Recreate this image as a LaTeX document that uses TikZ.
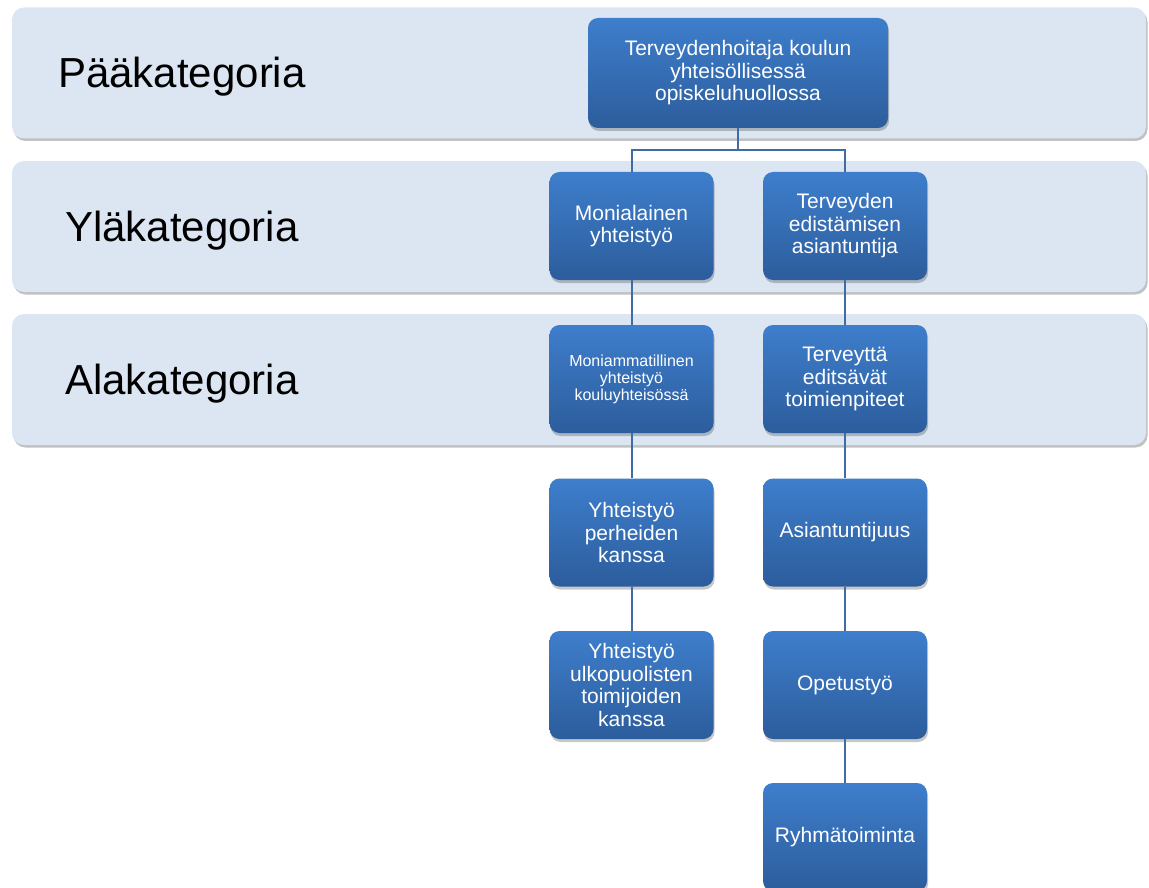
\documentclass[tikz,border=0pt]{standalone}
\usepackage{fontspec}
\setmainfont{Liberation Sans}
\usetikzlibrary{shadows}
\definecolor{bandfill}{RGB}{220,230,242}
\definecolor{boxtop}{RGB}{62,126,204}
\definecolor{boxbot}{RGB}{44,93,156}
\definecolor{linkcol}{RGB}{64,108,166}
\tikzset{
  band/.style={rectangle, rounded corners=12pt, fill=bandfill, draw=none,
    minimum width=1134pt, minimum height=131pt,
    drop shadow={shadow xshift=1.5pt, shadow yshift=-2.5pt, opacity=0.35, fill=black!70}},
  bandlabel/.style={anchor=base west, inner sep=0pt, text=black,
    font=\fontsize{42}{46}\selectfont},
  catbox/.style={rectangle, rounded corners=10pt, top color=boxtop, bottom color=boxbot,
    draw=none, text=white, align=center, inner sep=2pt,
    minimum width=164pt, minimum height=108pt,
    font=\fontsize{21}{22.5}\selectfont,
    drop shadow={shadow xshift=1pt, shadow yshift=-3pt, opacity=0.22, fill=black}},
  smalltext/.style={font=\fontsize{16}{17}\selectfont},
  link/.style={draw=linkcol, line width=2pt}
}
\begin{document}
\begin{tikzpicture}[x=1pt, y=-1pt]
  \useasboundingbox (0,0) rectangle (1149,888);
  \clip (0,0) rectangle (1149,888);

  % category bands with their labels
  \node[band] (b1) at (579,73) {};
  \node[band] (b2) at (579,226.5) {};
  \node[band] (b3) at (579,379.5) {};
  \node[bandlabel] (l1) at (58,88) {Pääkategoria};
  \node[bandlabel] (l2) at (65,241) {Yläkategoria};
  \node[bandlabel] (l3) at (65,394) {Alakategoria};

  % hierarchy boxes
  \node[catbox, minimum width=300pt, minimum height=110pt] (top) at (738,73)
    {Terveydenhoitaja koulun\\yhteisöllisessä\\opiskeluhuollossa};
  \node[catbox] (m1) at (631.5,226) {Monialainen\\yhteistyö};
  \node[catbox] (t1) at (845,226) {Terveyden\\edistämisen\\asiantuntija};
  \node[catbox, smalltext] (m2) at (631.5,379) {Moniammatillinen\\yhteistyö\\kouluyhteisössä};
  \node[catbox] (t2) at (845,379) {Terveyttä\\editsävät\\toimienpiteet};
  \node[catbox] (m3) at (631.5,532.5) {Yhteistyö\\perheiden\\kanssa};
  \node[catbox] (t3) at (845,532.5) {Asiantuntijuus};
  \node[catbox] (m4) at (631.5,685) {Yhteistyö\\ulkopuolisten\\toimijoiden\\kanssa};
  \node[catbox] (t4) at (845,685) {Opetustyö};
  \node[catbox] (t5) at (845,837) {Ryhmätoiminta};

  % connectors
  \coordinate (split) at (738,150);
  \draw[link] (top.south) -- (split);
  \draw[link] (split) -| (m1.north);
  \draw[link] (split) -| (t1.north);
  \draw[link] (m1.south) -- (m2.north);
  \draw[link] (m2.south) -- (m3.north);
  \draw[link] (m3.south) -- (m4.north);
  \draw[link] (t1.south) -- (t2.north);
  \draw[link] (t2.south) -- (t3.north);
  \draw[link] (t3.south) -- (t4.north);
  \draw[link] (t4.south) -- (t5.north);
\end{tikzpicture}
\end{document}
